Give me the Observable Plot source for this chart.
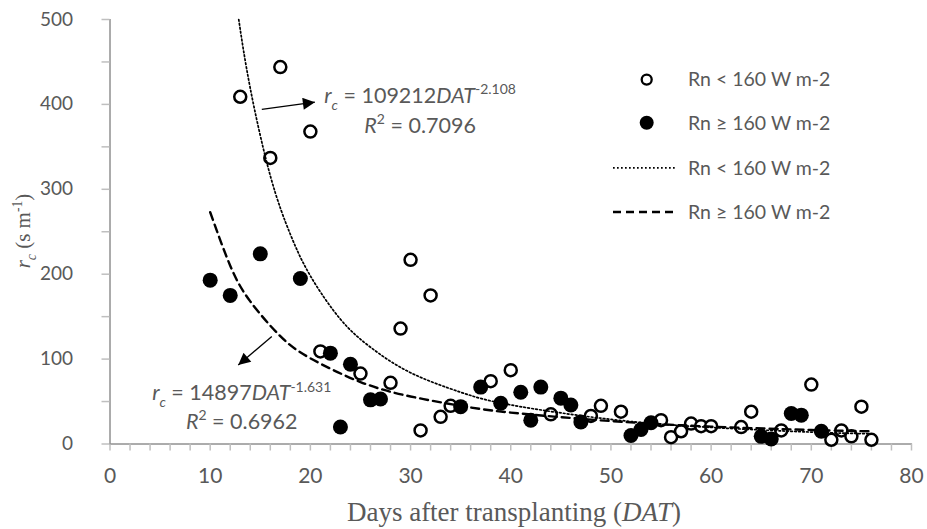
<!DOCTYPE html>
<html><head><meta charset="utf-8">
<script src="https://cdn.jsdelivr.net/npm/d3@7"></script>
<script src="https://cdn.jsdelivr.net/npm/@observablehq/plot@0.6"></script>
<style>
body{margin:0;background:#fff;}
#chart svg g[aria-label*="axis"] line, #chart svg g[aria-label*="axis"] path{stroke:#bfbfbf !important;stroke-width:1.5px;}
#chart svg g[aria-label*="axis"] text{fill:#595959 !important;}
#chart svg g[aria-label^="x-axis"] text{font-size:21px;}
</style></head><body><div id="chart"></div>
<script>
// Rn < 160 W m-2 (open circles)
const openDAT = [13,16,17,20,21,25,28,29,30,31,32,33,34,38,40,44,48,49,51,55,56,57,58,59,60,63,64,67,70,72,73,74,75,76];
const openRc  = [409,337,444,368,109,83,72,136,217,16,175,32,45,74,87,35,33,45,38,28,8,15,24,21,21,20,38,16,70,5,16,9,44,5];
// Rn >= 160 W m-2 (filled circles)
const fillDAT = [10,12,15,19,22,23,24,26,27,35,37,39,41,42,43,45,46,47,52,53,54,65,66,68,69,71];
const fillRc  = [193,175,224,195,107,20,94,52,53,44,67,48,61,28,67,54,46,26,10,17,25,9,6,36,34,15];
// trend curves
const fitOpenDAT = [12.85,14,16,18,20,23,26,30,35,40,50,60,70,76];
const fitOpenRc  = [500,419,316,247,198,147,114,84,61,46,29,19.5,14,12];
const fitFillDAT = [10,12,14,17,20,25,30,35,40,50,60,70,76];
const fitFillRc  = [273,210,168,127,101,73,56,45,37,27,20.5,16.5,15];
// text
const xTicks = d3.range(0, 81, 2);
const yTicks = d3.range(0, 501, 50);
const legendLabels = ["Rn < 160 W m-2", "Rn ≥ 160 W m-2", "Rn < 160 W m-2", "Rn ≥ 160 W m-2"];
const eqOpen = {coef: "109212", exp: "-2.108", r2: "0.7096"};
const eqFill = {coef: "14897", exp: "-1.631", r2: "0.6962"};

const openPts = openDAT.map((d, i) => ({dat: d, rc: openRc[i]}));
const fillPts = fillDAT.map((d, i) => ({dat: d, rc: fillRc[i]}));
const fitOpen = fitOpenDAT.map((d, i) => ({dat: d, rc: fitOpenRc[i]}));
const fitFill = fitFillDAT.map((d, i) => ({dat: d, rc: fitFillRc[i]}));

const plot = Plot.plot({
  width: 927, height: 529,
  marginLeft: 109.5, marginRight: 16, marginTop: 19, marginBottom: 85.5,
  style: {fontFamily: "Lato, 'Open Sans', sans-serif", fontSize: "19px", color: "#595959", background: "white", overflow: "visible"},
  x: {domain: [0, 80], ticks: xTicks, tickFormat: d => d % 10 === 0 ? String(d) : "", tickSize: 7, tickPadding: 17, line: true, label: null},
  y: {domain: [0, 500], ticks: yTicks, tickFormat: d => d % 100 === 0 ? String(d) : "", tickSize: 8, tickPadding: 29, line: true, label: null},
  marks: [
    Plot.dot(openPts, {x: "dat", y: "rc", r: 6, stroke: "black", strokeWidth: 2.5, fill: "white"}),
    Plot.dot(fillPts, {x: "dat", y: "rc", r: 7.5, fill: "black", stroke: "none"}),
    Plot.line(fitOpen, {x: "dat", y: "rc", stroke: "black", strokeWidth: 1.7, strokeDasharray: "1.7 2.3", curve: "natural"}),
    Plot.line(fitFill, {x: "dat", y: "rc", stroke: "black", strokeWidth: 2.4, strokeDasharray: "8 5", curve: "natural"})
  ]
});
document.getElementById("chart").appendChild(plot);

const svg = d3.select(plot);
const sxD = plot.scale("x"), syD = plot.scale("y");
const X = sxD.apply ? v => sxD.apply(v) : d3.scaleLinear(sxD.domain, sxD.range);
const Y = syD.apply ? v => syD.apply(v) : d3.scaleLinear(syD.domain, syD.range);

// rich text helper
function rich(parent, x, y, parts, opts) {
  const t = parent.append("text").attr("x", x).attr("y", y)
    .attr("text-anchor", opts.anchor || "start")
    .attr("font-family", opts.family).attr("font-size", opts.size)
    .attr("fill", opts.fill || "#595959");
  if (opts.rotate) t.attr("transform", `rotate(${opts.rotate},${x},${y})`);
  let shift = 0;
  for (const p of parts) {
    const s = t.append("tspan").text(p.t);
    if (p.i) s.attr("font-style", "italic");
    let target = 0;
    if (p.sub) { s.attr("font-size", opts.size * 0.65); target = opts.size * 0.3; }
    if (p.sup) { s.attr("font-size", opts.size * 0.65); target = -opts.size * 0.4; }
    const dy = target - shift;
    if (dy !== 0) s.attr("dy", dy);
    shift = target;
  }
}
const eqFont = {family: "Lato, 'Open Sans', sans-serif", size: 21.5, anchor: "middle"};
const ann = svg.append("g");
function equation(eq, cx, y1, y2) {
  rich(ann, X(cx), Y(y1), [{t: "r", i: 1}, {t: "c", i: 1, sub: 1}, {t: " = " + eq.coef}, {t: "DAT", i: 1}, {t: eq.exp, sup: 1}], eqFont);
  rich(ann, X(cx), Y(y2), [{t: "R", i: 1}, {t: "2", sup: 1}, {t: " = " + eq.r2}], eqFont);
}
equation(eqOpen, 31.0, 401, 366);
equation(eqFill, 13.2, 51, 17);

// arrows
const defs = svg.append("defs");
defs.append("marker").attr("id", "tri").attr("viewBox", "0 0 10 10").attr("refX", 10).attr("refY", 5)
  .attr("markerWidth", 14).attr("markerHeight", 12).attr("markerUnits", "userSpaceOnUse").attr("orient", "auto")
  .append("path").attr("d", "M0,0L10,5L0,10Z").attr("fill", "black");
function arrow(x1, y1, x2, y2) {
  ann.append("line").attr("x1", X(x1)).attr("y1", Y(y1)).attr("x2", X(x2)).attr("y2", Y(y2))
    .attr("stroke", "black").attr("stroke-width", 1.3).attr("marker-end", "url(#tri)");
}
arrow(15.2, 393.6, 20.5, 402);
arrow(16.2, 126, 12.85, 92.5);

// axis titles
rich(svg, 30, 231, [{t: "r", i: 1}, {t: "c", i: 1, sub: 1}, {t: " (s m"}, {t: "-1", sup: 1}, {t: ")"}],
  {family: "'Liberation Serif', 'Times New Roman', serif", size: 21, anchor: "middle", rotate: -90});
rich(svg, 514, 521, [{t: "Days after transplanting ("}, {t: "DAT", i: 1}, {t: ")"}],
  {family: "'Liberation Serif', 'Times New Roman', serif", size: 27, anchor: "middle"});

// legend
const leg = svg.append("g");
const rows = [79.6, 122.7, 167.8, 212];
leg.append("circle").attr("cx", 646.7).attr("cy", rows[0]).attr("r", 5).attr("fill", "white").attr("stroke", "black").attr("stroke-width", 2.3);
leg.append("circle").attr("cx", 646.7).attr("cy", rows[1]).attr("r", 7).attr("fill", "black");
leg.append("line").attr("x1", 613).attr("x2", 675).attr("y1", rows[2]).attr("y2", rows[2]).attr("stroke", "black").attr("stroke-width", 1.7).attr("stroke-dasharray", "1.7 2.3");
leg.append("line").attr("x1", 613).attr("x2", 675).attr("y1", rows[3]).attr("y2", rows[3]).attr("stroke", "black").attr("stroke-width", 2.4).attr("stroke-dasharray", "8 5");
legendLabels.forEach((l, i) => {
  leg.append("text").attr("x", 688).attr("y", rows[i]).attr("dy", "0.35em").attr("text-anchor", "start")
    .attr("font-family", "Lato, 'Open Sans', sans-serif")
    .attr("font-size", 19.5).attr("fill", "#595959").text(l);
});
</script></body></html>
